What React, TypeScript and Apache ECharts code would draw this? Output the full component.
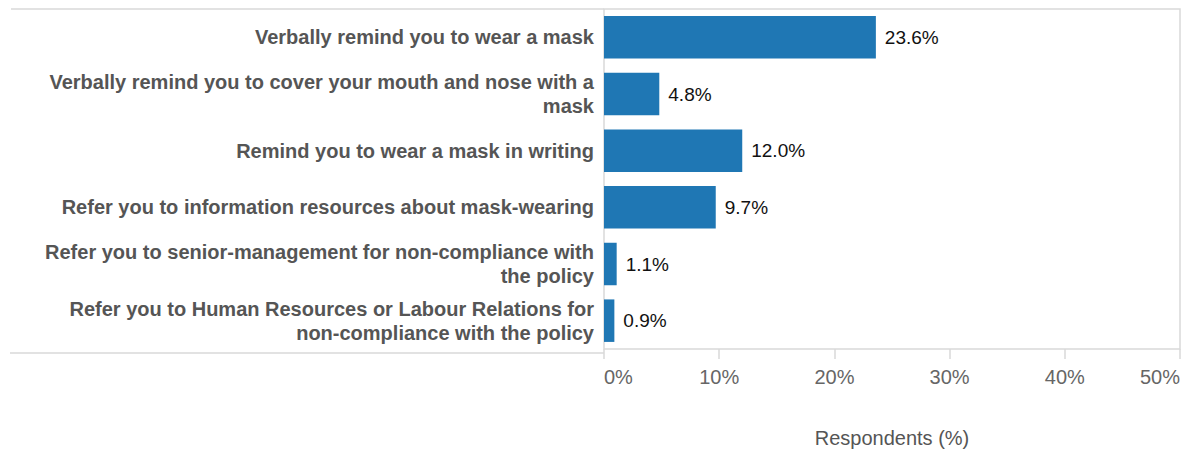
import React, { useEffect, useRef } from "react";
import * as echarts from "echarts";

const categories = [
  "Verbally remind you to wear a mask",
  "Verbally remind you to cover your mouth and nose with a mask",
  "Remind you to wear a mask in writing",
  "Refer you to information resources about mask-wearing",
  "Refer you to senior-management for non-compliance with the policy",
  "Refer you to Human Resources or Labour Relations for non-compliance with the policy",
];
const values = [23.6, 4.8, 12.0, 9.7, 1.1, 0.9];
const axisName = "Respondents (%)";

const FONT = 'Arial, "Liberation Sans", sans-serif';
const LINE = "#d9d9d9";
const LABEL_FONT = 'bold 20px Arial, "Liberation Sans", sans-serif';
const WRAP_WIDTH = 566;

let ctx: CanvasRenderingContext2D | null = null;
function wrap(text: string): string {
  if (!ctx) ctx = document.createElement("canvas").getContext("2d");
  if (!ctx) return text;
  ctx.font = LABEL_FONT;
  const words = text.split(" ");
  const lines: string[] = [];
  let cur = "";
  for (const w of words) {
    const test = cur ? cur + " " + w : w;
    if (cur && ctx.measureText(test).width > WRAP_WIDTH) {
      lines.push(cur);
      cur = w;
    } else {
      cur = test;
    }
  }
  if (cur) lines.push(cur);
  return lines.join("\n");
}

export default function App() {
  const ref = useRef<HTMLDivElement>(null);
  useEffect(() => {
    document.body.style.margin = "0";
    const chart = echarts.init(ref.current!, null, { renderer: "svg" });
    chart.setOption({
      animation: false,
      textStyle: { fontFamily: FONT },
      grid: {
        left: 604,
        right: 2,
        top: 9,
        bottom: 100,
        show: true,
        borderColor: LINE,
        borderWidth: 1.5,
      },
      xAxis: {
        type: "value",
        min: 0,
        max: 50,
        interval: 10,
        splitLine: { show: false },
        axisLine: { show: false },
        axisTick: { show: true, length: 10, lineStyle: { color: LINE, width: 1.5 } },
        axisLabel: {
          formatter: "{value}%",
          color: "#666",
          fontSize: 20,
          fontFamily: FONT,
          margin: 18,
          alignMinLabel: "left",
          alignMaxLabel: "right",
        },
        name: axisName,
        nameLocation: "middle",
        nameGap: 79,
        nameTextStyle: { color: "#555", fontSize: 20, fontFamily: FONT },
      },
      yAxis: {
        type: "category",
        data: categories,
        inverse: true,
        axisLine: { show: false },
        axisTick: { show: false },
        axisLabel: {
          color: "#555",
          fontWeight: "bold",
          fontSize: 20,
          fontFamily: FONT,
          margin: 10,
          lineHeight: 24,
          align: "right",
          formatter: (v: string) => wrap(v),
        },
      },
      series: [
        {
          type: "bar",
          data: values,
          barCategoryGap: "25%",
          itemStyle: { color: "#1f77b4" },
          label: {
            show: true,
            position: "right",
            distance: 9,
            color: "#111",
            fontSize: 19,
            fontFamily: FONT,
            formatter: (p: any) => p.value.toFixed(1) + "%",
          },
        },
      ],
      graphic: [
        {
          type: "line",
          shape: { x1: 11, y1: 9, x2: 604, y2: 9 },
          style: { stroke: LINE, lineWidth: 1.5 },
        },
        {
          type: "line",
          shape: { x1: 10, y1: 353, x2: 604, y2: 353 },
          style: { stroke: LINE, lineWidth: 1.5 },
        },
      ],
    });
    return () => chart.dispose();
  }, []);
  return <div ref={ref} style={{ width: 1183, height: 453 }} />;
}
